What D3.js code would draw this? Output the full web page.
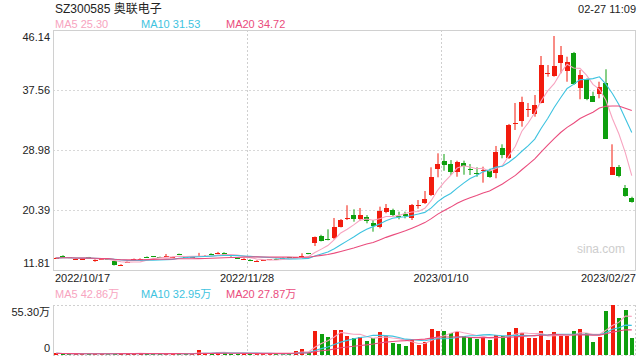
<!DOCTYPE html>
<html><head><meta charset="utf-8">
<script src="https://cdn.jsdelivr.net/npm/d3@7"></script>
<style>
body{margin:0;background:#fff}
svg{display:block;font-family:"Liberation Sans",Arial,"Noto Sans CJK SC",sans-serif}
</style>
</head><body>
<svg id="c" width="640" height="360"></svg>
<script>
// ---------- data ----------
const openP = [13.45,13.86,13.60,13.38,13.36,13.62,13.22,13.30,13.35,13.10,12.43,12.90,13.30,13.38,13.70,13.75,13.68,13.72,13.62,14.10,13.64,13.60,13.78,13.84,14.15,14.12,14.30,13.90,13.55,13.38,13.30,13.12,13.16,13.26,13.40,13.58,13.60,13.56,13.65,14.18,
15.63,16.67,16.22,16.29,18.00,19.10,19.63,19.06,19.35,18.49,18.00,20.11,20.39,19.56,19.82,19.25,20.87,21.44,22.58,26.30,27.40,26.97,25.83,27.16,26.21,25.64,26.00,26.01,25.73,29.22,27.87,32.80,33.17,34.75,34.12,35.74,39.90,39.56,41.38,40.32,42.89,37.80,39.09,36.70,36.99,38.60,25.40,26.59,23.50,22.15];
const highP = [13.62,13.92,13.66,13.50,13.48,13.68,13.35,13.40,13.40,13.14,12.64,13.05,13.45,13.48,13.75,13.80,13.72,14.10,13.72,14.15,13.70,13.72,14.26,13.95,14.20,14.40,14.35,13.95,13.60,13.50,13.35,13.22,13.28,13.38,13.45,13.62,13.66,13.68,14.20,14.25,
16.60,16.85,17.63,19.25,19.10,21.07,20.49,20.68,19.67,18.96,20.87,21.25,20.58,20.15,20.15,21.25,21.82,23.11,26.50,28.50,28.40,27.54,27.44,27.45,26.97,26.50,26.59,26.30,29.55,29.79,32.70,35.70,36.60,35.70,36.84,42.42,41.13,45.28,43.85,42.32,43.00,40.42,39.20,37.31,38.74,40.52,29.79,26.83,23.97,22.29];
const lowP = [13.40,13.58,13.50,13.32,13.30,13.45,12.98,13.25,13.25,12.45,12.38,12.85,13.25,13.33,13.62,13.65,13.58,13.70,13.58,13.98,13.56,13.55,13.75,13.80,14.02,14.08,14.02,13.70,13.42,13.30,13.08,13.05,13.12,13.22,13.30,13.50,13.52,13.52,13.60,14.06,
15.24,15.90,16.05,16.20,17.90,18.96,18.72,18.86,18.49,17.29,17.77,19.92,19.53,19.06,19.20,18.96,20.58,21.25,22.39,25.07,26.01,25.40,25.15,25.44,25.40,25.15,24.30,25.00,24.93,27.79,27.70,31.84,32.31,33.70,33.74,35.65,39.46,39.46,39.95,38.74,38.30,36.23,36.10,35.88,36.37,30.65,25.40,25.07,22.29,21.44];
const closeP = [13.52,13.62,13.55,13.45,13.42,13.52,13.28,13.33,13.30,12.48,12.58,12.98,13.40,13.42,13.66,13.70,13.62,13.82,13.66,14.04,13.60,13.66,13.82,13.88,14.08,14.28,14.08,13.75,13.48,13.45,13.12,13.16,13.24,13.32,13.35,13.55,13.56,13.62,13.75,14.12,
16.49,16.00,16.18,17.92,18.96,19.18,19.06,19.63,18.72,18.00,20.25,20.68,19.67,19.50,19.53,21.11,21.07,21.97,25.11,26.97,26.79,25.83,27.26,26.79,26.05,25.58,26.11,25.15,28.69,28.26,32.55,32.88,35.88,34.80,35.41,41.13,39.95,40.99,42.56,41.56,38.42,39.70,36.23,35.88,38.03,30.65,26.59,25.30,22.39,21.58];
// volume in 万 (10k shares)
const volume = [1.8,1.5,1.2,1.4,1.3,1.2,1.6,1.3,1.1,2.2,2.0,1.7,1.6,1.4,1.3,1.5,1.2,1.6,1.3,1.4,1.2,1.5,5.0,1.8,2.0,3.6,2.4,1.6,1.5,1.3,1.8,1.4,1.2,1.3,1.1,1.5,1.6,4.8,7.0,2.5,
26.5,23.2,19.9,27.7,27.7,21.0,18.5,19.4,15.5,18.5,25.4,21.0,13.6,12.2,10.0,16.6,11.1,14.0,28.8,26.5,26.5,24.0,25.4,21.0,19.6,17.4,19.6,16.6,21.8,21.0,25.4,29.9,24.7,19.1,19.1,26.5,16.6,25.4,21.0,21.0,26.5,28.8,24.0,14.7,20.2,48.7,55.3,41.3,49.8,18.5];

const priceTicks = [46.14, 37.56, 28.98, 20.39, 11.81];
const volTicks = [55.30, 0];
const xTickIndex = [0, 30, 60, 89];
const xTickLabels = ["2022/10/17", "2022/11/28", "2023/01/10", "2023/02/27"];
const maPeriods = [5, 10, 20];
const maColors = ["#f7a4c0", "#3ec3e0", "#ea4c7d"];
const priceLegend = ["MA5 25.30", "MA10 31.53", "MA20 34.72"];
const volLegend = ["MA5 42.86万", "MA10 32.95万", "MA20 27.87万"];
const titleText = "SZ300585 奥联电子";
const timeText = "02-27 11:09";

// ---------- layout ----------
const L = 53, R = 635, T = 30, B = 270, VT = 305, VB = 355;
const UP = "#f21b0d", DOWN = "#0e9f0e";
const n = closeP.length;
const svg = d3.select("#c");

const x = d3.scaleBand().domain(d3.range(n)).range([L, R]).padding(0);
const step = x.bandwidth();
const cx = i => x(i) + step / 2;
const y = d3.scaleLinear().domain([11.81, 46.14]).range([B, T]);
const yv = d3.scaleLinear().domain([0, 55.30]).range([VB, VT]);

function movingAvg(arr, p) {
  return arr.map((_, i) => {
    const s = Math.max(0, i - p + 1);
    return d3.mean(arr.slice(s, i + 1));
  });
}

// ---------- grid / frames ----------
const grid = svg.append("g");
grid.selectAll("line.h").data(priceTicks.slice(1, 4)).join("line")
  .attr("x1", L).attr("x2", R)
  .attr("y1", d => Math.round(y(d)) + 0.5).attr("y2", d => Math.round(y(d)) + 0.5)
  .attr("stroke", "#d8d8d8").attr("stroke-dasharray", "2,2");
[[T, B], [VT, VB]].forEach(([a, b]) => {
  grid.selectAll(null).data([30, 60]).join("line")
    .attr("x1", d => Math.round(x(d)) + 0.5).attr("x2", d => Math.round(x(d)) + 0.5)
    .attr("y1", a).attr("y2", b)
    .attr("stroke", "#cfcfcf").attr("stroke-dasharray", "2,2");
});
grid.append("rect").attr("x", L + 0.5).attr("y", T + 0.5)
  .attr("width", R - L).attr("height", B - T)
  .attr("fill", "none").attr("stroke", "#d0d0d0");
// volume frame
grid.append("line").attr("x1", L + 0.5).attr("x2", L + 0.5).attr("y1", VT).attr("y2", VB + 1).attr("stroke", "#d0d0d0");
[VT + 0.5, VB + 0.5].forEach(v => grid.append("line").attr("x1", L).attr("x2", R).attr("y1", v).attr("y2", v)
  .attr("stroke", "#d0d0d0").attr("stroke-dasharray", "2,2"));
grid.append("line").attr("x1", R + 0.5).attr("x2", R + 0.5).attr("y1", VT).attr("y2", VB)
  .attr("stroke", "#d0d0d0").attr("stroke-dasharray", "2,2");

// watermark
svg.append("text").attr("x", 625).attr("y", 253).attr("text-anchor", "end")
  .attr("font-size", 12).attr("fill", "#cdcdcd").text("sina.com");

// ---------- candles ----------
const idx = d3.range(n);
const isUp = i => closeP[i] >= openP[i];
const bodyW = 5;
const cg = svg.append("g");
cg.selectAll("line.w").data(idx).join("line")
  .attr("x1", i => Math.round(cx(i))).attr("x2", i => Math.round(cx(i)))
  .attr("y1", i => y(highP[i])).attr("y2", i => y(lowP[i]))
  .attr("stroke", i => isUp(i) ? UP : DOWN).attr("stroke-width", 1);
cg.selectAll("rect").data(idx).join("rect")
  .attr("x", i => Math.round(cx(i) - bodyW / 2))
  .attr("y", i => Math.round(y(Math.max(openP[i], closeP[i]))))
  .attr("width", bodyW)
  .attr("height", i => Math.max(1, Math.round(Math.abs(y(openP[i]) - y(closeP[i])))))
  .attr("fill", i => isUp(i) ? UP : DOWN)
  .attr("shape-rendering", "crispEdges");

// price MA lines
maPeriods.forEach((p, k) => {
  const m = movingAvg(closeP, p);
  svg.append("path").datum(idx)
    .attr("d", d3.line().x(i => cx(i)).y(i => y(m[i])))
    .attr("fill", "none").attr("stroke", maColors[k]).attr("stroke-width", 1.1);
});

// ---------- volume ----------
const volW = 3.5;
svg.append("g").selectAll("rect").data(idx).join("rect")
  .attr("x", i => Math.round(cx(i) - volW / 2))
  .attr("y", i => Math.min(VB - 1, Math.round(yv(volume[i]))))
  .attr("width", volW)
  .attr("height", i => Math.max(1, VB - Math.round(yv(volume[i]))))
  .attr("fill", i => isUp(i) ? UP : DOWN)
  .attr("shape-rendering", "crispEdges");
maPeriods.forEach((p, k) => {
  const m = movingAvg(volume, p);
  svg.append("path").datum(idx)
    .attr("d", d3.line().x(i => cx(i)).y(i => yv(m[i])))
    .attr("fill", "none").attr("stroke", maColors[k]).attr("stroke-width", 1.1);
});

// ---------- axes ----------
const ya = svg.append("g").attr("transform", `translate(${L},0)`)
  .call(d3.axisLeft(y).tickValues(priceTicks).tickSize(0).tickPadding(3).tickFormat(d3.format(".2f")));
ya.select(".domain").remove();
ya.selectAll("text").attr("font-size", 11).attr("fill", "#222")
  .attr("font-family", "Liberation Sans, Arial, sans-serif")
  .attr("dy", d => d === priceTicks[0] ? "0.95em" : d === priceTicks[priceTicks.length - 1] ? "-0.3em" : "0.35em");

const va = svg.append("g").attr("transform", `translate(${L},0)`)
  .call(d3.axisLeft(yv).tickValues(volTicks).tickSize(0).tickPadding(3)
    .tickFormat(d => d === 0 ? "0" : d3.format(".2f")(d) + "万"));
va.select(".domain").remove();
va.selectAll("text").attr("font-size", 11).attr("fill", "#222")
  .attr("font-family", "Liberation Sans, Arial, Noto Sans CJK SC, sans-serif")
  .attr("dy", d => d === 0 ? "-0.3em" : "0.95em");

svg.append("g").selectAll("text").data(xTickIndex).join("text")
  .attr("x", (d, k) => k === 0 ? x(d) + 2 : k === xTickIndex.length - 1 ? x(d) + step + 1 : x(d))
  .attr("y", 282)
  .attr("text-anchor", (d, k) => k === 0 ? "start" : k === xTickIndex.length - 1 ? "end" : "middle")
  .attr("font-size", 11).attr("fill", "#222")
  .text((d, k) => xTickLabels[k]);

// ---------- titles / legends ----------
svg.append("text").attr("x", 55).attr("y", 13).attr("font-size", 12).attr("fill", "#222")
  .attr("font-family", "Liberation Sans, Arial, Noto Sans CJK SC, sans-serif").text(titleText);
svg.append("text").attr("x", 636).attr("y", 13).attr("text-anchor", "end")
  .attr("font-size", 11).attr("fill", "#222").text(timeText);
const legX = [55, 141, 226];
svg.append("g").selectAll("text").data(priceLegend).join("text")
  .attr("x", (d, k) => legX[k]).attr("y", 28).attr("font-size", 11)
  .attr("fill", (d, k) => maColors[k]).text(d => d);
svg.append("g").selectAll("text").data(volLegend).join("text")
  .attr("x", (d, k) => legX[k]).attr("y", 298).attr("font-size", 11)
  .attr("font-family", "Liberation Sans, Arial, Noto Sans CJK SC, sans-serif")
  .attr("fill", (d, k) => maColors[k]).text(d => d);
</script>
</body></html>
